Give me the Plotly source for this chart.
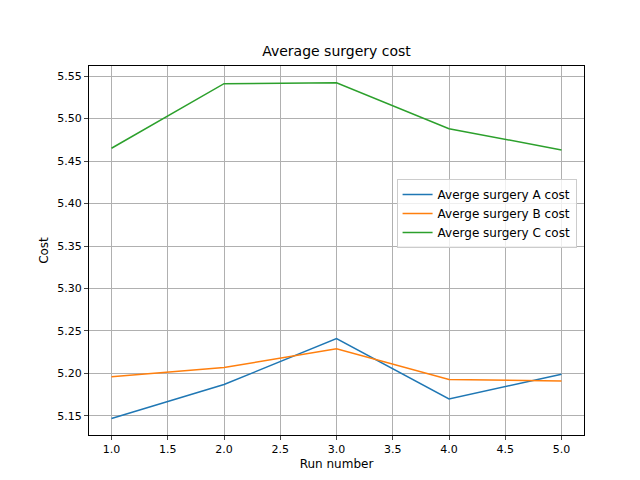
import plotly.graph_objects as go

runs = [1, 2, 3, 4, 5]
cost_a = [5.147, 5.187, 5.241, 5.170, 5.199]
cost_b = [5.196, 5.207, 5.229, 5.193, 5.191]
cost_c = [5.465, 5.541, 5.542, 5.488, 5.463]
names = ["Averge surgery A cost", "Averge surgery B cost", "Averge surgery C cost"]
colors = ["#1f77b4", "#ff7f0e", "#2ca02c"]

fig = go.Figure()
for y, n, c in zip([cost_a, cost_b, cost_c], names, colors):
    fig.add_trace(go.Scatter(x=runs, y=y, mode="lines", name=n, line=dict(color=c, width=1.5)))

ax = dict(showline=True, linecolor="black", mirror=True, showgrid=True, gridcolor="#b0b0b0",
          ticks="outside", ticklen=4, zeroline=False, tickfont=dict(size=11, color="black"),
          automargin=False)
fig.update_layout(
    width=640, height=480, autosize=False, plot_bgcolor="white", paper_bgcolor="white",
    font=dict(family="DejaVu Sans", color="black"),
    margin=dict(l=81, r=64, t=58, b=53, pad=0),
    title=dict(text="Average surgery cost", x=0.5, xanchor="center", xref="paper",
               y=0.91, yanchor="middle", font=dict(size=14)),
    xaxis=dict(ax, range=[0.8, 5.2], tickvals=[1, 1.5, 2, 2.5, 3, 3.5, 4, 4.5, 5],
               ticktext=["1.0", "1.5", "2.0", "2.5", "3.0", "3.5", "4.0", "4.5", "5.0"],
               title=dict(text="Run number", font=dict(size=12), standoff=4)),
    yaxis=dict(ax, range=[5.1276, 5.5618], dtick=0.05, tickformat=".2f",
               title=dict(text="Cost", font=dict(size=12), standoff=6)),
    legend=dict(x=0.985, y=0.6, xanchor="right", yanchor="middle", bordercolor="#cccccc",
                borderwidth=1, bgcolor="rgba(255,255,255,0.8)", font=dict(size=12)),
)
fig.write_html("out.html")
